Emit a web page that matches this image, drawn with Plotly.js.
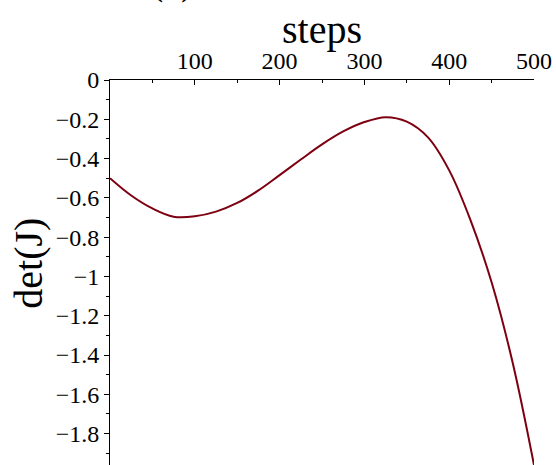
<!DOCTYPE html>
<html>
<head>
<meta charset="utf-8">
<script src="https://cdn.plot.ly/plotly-3.0.1.min.js"></script>
<style>html,body{margin:0;padding:0;background:#fff;}#chart{width:556px;height:465px;}</style>
</head>
<body>
<div id="chart"></div>
<script>
// Data
const steps = [0, 25, 50, 75, 100, 125, 150, 175, 200, 225, 250, 275, 300, 325, 350, 375, 400, 425, 450, 475, 500];
const detJ = [-0.500, -0.588, -0.654, -0.696, -0.694, -0.670, -0.626, -0.562, -0.484, -0.405, -0.328, -0.262, -0.214, -0.189, -0.212, -0.292, -0.460, -0.712, -1.030, -1.442, -1.960];

const xTickVals = [100, 200, 300, 400, 500];
const xTickText = ["100", "200", "300", "400", "500"];
const yTickVals = [0, -0.2, -0.4, -0.6, -0.8, -1, -1.2, -1.4, -1.6, -1.8];
const yTickText = ["0", "\u22120.2", "\u22120.4", "\u22120.6", "\u22120.8", "\u22121", "\u22121.2", "\u22121.4", "\u22121.6", "\u22121.8"];
const xTitle = "steps";
const yTitle = "det(J)";
const panelLabel = "(a)";

const serif = "Liberation Serif";

const trace = {
  x: steps,
  y: detJ,
  type: "scatter",
  mode: "lines",
  line: {color: "rgb(125,0,16)", width: 2, shape: "spline", smoothing: 1},
  hoverinfo: "skip"
};

const layout = {
  width: 556,
  height: 465,
  margin: {l: 110, r: 22, t: 80, b: 0, pad: 0},
  paper_bgcolor: "#fff",
  plot_bgcolor: "#fff",
  showlegend: false,
  font: {family: serif, color: "#000"},
  xaxis: {
    side: "top",
    range: [0, 500],
    showgrid: false,
    zeroline: false,
    showline: true,
    linecolor: "#000",
    linewidth: 1,
    ticks: "inside",
    ticklen: 5,
    tickwidth: 1,
    tickcolor: "#000",
    tickmode: "array",
    tickvals: xTickVals,
    ticktext: xTickText,
    tickfont: {family: serif, size: 24, color: "#000"},
    minor: {ticks: "inside", ticklen: 3, tickcolor: "#000", dtick: 50, tick0: 0, showgrid: false},
    fixedrange: true
  },
  yaxis: {
    range: [-1.96, 0],
    showgrid: false,
    zeroline: false,
    showline: true,
    linecolor: "#000",
    linewidth: 1,
    ticks: "outside",
    ticklen: 5,
    tickwidth: 1,
    tickcolor: "#000",
    tickmode: "array",
    tickvals: yTickVals,
    ticktext: yTickText,
    tickfont: {family: serif, size: 24, color: "#000"},
    minor: {ticks: "outside", ticklen: 3, tickcolor: "#000", dtick: 0.1, tick0: 0, showgrid: false},
    fixedrange: true
  },
  annotations: [
    {text: xTitle, xref: "paper", yref: "paper", x: 0.5, y: 1.13, xanchor: "center", yanchor: "middle",
     showarrow: false, font: {family: serif, size: 40, color: "#000"}},
    {text: yTitle, xref: "paper", yref: "paper", x: -0.191, y: 0.523, xanchor: "center", yanchor: "middle",
     textangle: -90, showarrow: false, font: {family: serif, size: 40, color: "#000"}},
    {text: panelLabel, xref: "paper", yref: "paper", x: 0.146, y: 1.195, xanchor: "center", yanchor: "bottom",
     showarrow: false, font: {family: serif, size: 40, color: "#000"}}
  ]
};

Plotly.newPlot("chart", [trace], layout, {displayModeBar: false, staticPlot: true});
</script>
</body>
</html>
